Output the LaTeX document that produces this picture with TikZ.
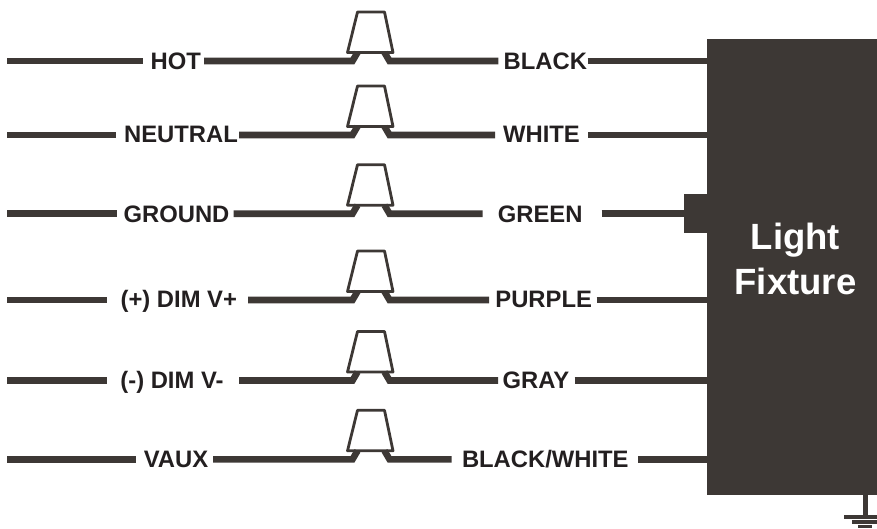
\documentclass[tikz,border=0pt]{standalone}
\usepackage{fontspec}
\setmainfont{Liberation Sans}
\definecolor{ink}{HTML}{3D3835}
\definecolor{labelink}{HTML}{231F20}
\tikzset{
  x=1pt,y=-1pt,
  wire/.style={draw=ink,line width=6.6pt,line join=miter},
  capline/.style={draw=ink,line width=2.8pt,line join=round},
  lab/.style={font=\fontsize{23.8}{26}\selectfont\bfseries,text=labelink,inner sep=0pt,anchor=base},
  fixture/.style={fill=ink,draw=none,inner sep=0pt,minimum width=170pt},
  fixlab/.style={font=\fontsize{36.5}{45}\selectfont\bfseries,text=white,inner sep=0pt,align=center},
  gndwire/.style={draw=ink,line width=4.4pt},
  gndbar/.style={fill=ink,draw=none},
}
% name, y, then x positions of the left wire end, and the free ends further along
\newcommand{\rowwires}[7]{%
  \coordinate (#1a) at (7,#2);
  \coordinate (#1b) at (#3,#2);
  \coordinate (#1c) at (#4,#2);
  \coordinate (#1d) at (352.5,#2);
  \coordinate (#1e) at (357.5,#2-8.5);
  \coordinate (#1f) at (384.5,#2-8.5);
  \coordinate (#1g) at (389.5,#2);
  \coordinate (#1h) at (#5,#2);
  \coordinate (#1i) at (#6,#2);
  \coordinate (#1j) at (#7,#2);
  \coordinate (#1t1) at (347.5,#2-8.5);
  \coordinate (#1t2) at (393,#2-8.5);
  \coordinate (#1t3) at (384.5,#2-49);
  \coordinate (#1t4) at (357.5,#2-49);
  \draw[capline] (#1t1) -- (#1t2) -- (#1t3) -- (#1t4) -- cycle;
  \draw[wire] (#1a) -- (#1b);
  \draw[wire] (#1c) -- (#1d) -- (#1e);
  \draw[wire] (#1f) -- (#1g) -- (#1h);
  \draw[wire] (#1i) -- (#1j);
}
\begin{document}
\begin{tikzpicture}
\useasboundingbox (0,0) rectangle (877,528);
% fixture
\node[fixture,minimum height=456pt] (body) at (792,267) {};
\node[fixture,minimum width=23pt,minimum height=39pt] (stub) at (695.5,213.5) {};
\node[fixlab] (fixturelabel) at (795.5,259) {Light\\Fixture};
% ground
\coordinate (gndbot) at (865.5,515);
\draw[gndwire] (gndbot |- body.south) -- (gndbot);
\node[gndbar,minimum width=33pt,minimum height=4pt,inner sep=0pt] (gnd1) at (860.5,517) {};
\node[gndbar,minimum width=25pt,minimum height=3.7pt,inner sep=0pt] (gnd2) at (864.5,521.9) {};
\node[gndbar,minimum width=14pt,minimum height=3pt,inner sep=0pt] (gnd3) at (865,526.5) {};
% labels
\node[lab] (hot) at (175.8,69.7) {HOT};
\node[lab] (neutral) at (181,142.2) {NEUTRAL};
\node[lab] (ground) at (176.5,222.8) {GROUND};
\node[lab] (dimp) at (178.8,307.5) {(+) DIM V+};
\node[lab] (dimm) at (172,388.5) {(-) DIM V-};
\node[lab] (vaux) at (176,467) {VAUX};
\node[lab] (black) at (545.3,69.7) {BLACK};
\node[lab] (white) at (541.5,142.2) {WHITE};
\node[lab] (green) at (540.2,222.8) {GREEN};
\node[lab] (purple) at (543.7,307.5) {PURPLE};
\node[lab] (gray) at (536,388.5) {GRAY};
\node[lab] (bw) at (545.3,467) {BLACK/WHITE};
% wires and splice caps
\rowwires{r1}{61}{143.3}{204}{498.3}{587.5}{707}
\rowwires{r2}{135}{115.7}{239}{495}{588}{707}
\rowwires{r3}{213.7}{117}{233.5}{482.7}{601.5}{684}
\rowwires{r4}{300}{106.7}{248}{489}{596.7}{707}
\rowwires{r5}{380.5}{106.7}{239}{498}{574.5}{707}
\rowwires{r6}{459.3}{136}{213}{451.7}{638}{707}
\end{tikzpicture}
\end{document}
